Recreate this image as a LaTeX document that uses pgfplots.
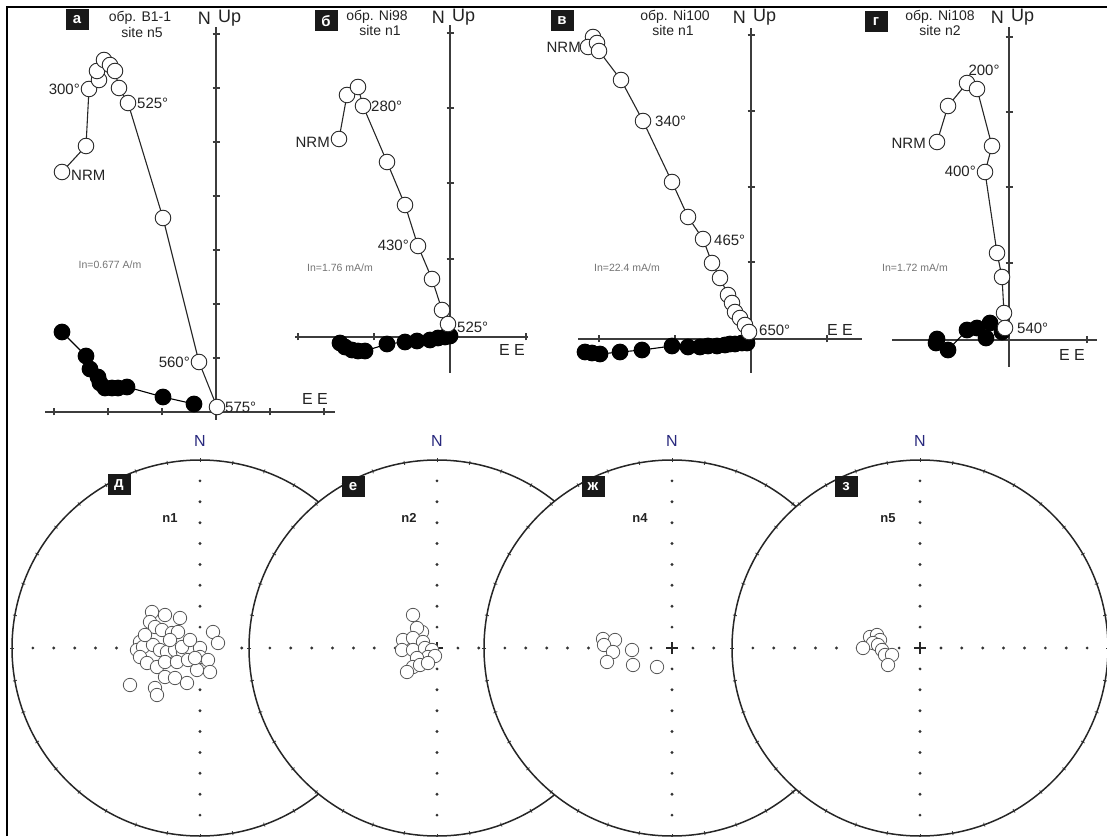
\documentclass[border=0pt]{standalone}
\usepackage{pgfplots}
\pgfplotsset{compat=1.18}
\usepackage{fontspec}
\setmainfont{Liberation Sans}
\definecolor{ax}{RGB}{60,60,60}
\definecolor{tx}{RGB}{35,35,35}
\definecolor{navy}{RGB}{40,40,125}
\newcommand{\fs}[1]{\fontsize{#1}{#1}\selectfont}
\pgfplotsset{
 zij/.style={x=1pt,y=1pt,anchor=south west,axis lines=middle,
   axis line style={-,line width=1.4pt,ax},
   tick style={line width=1.1pt,ax}, major tick length=7pt,
   xtick align=center, ytick align=center,
   xticklabels={}, yticklabels={},
   enlargelimits=false, clip=false},
 op/.style={mark=*, mark size=7.8pt, mark options={fill=white,draw=black!85,line width=0.9pt,solid}, black!85, line width=1.1pt},
 fl/.style={mark=*, mark size=7.8pt, mark options={fill=black,draw=black,solid}, black, line width=1.1pt},
 st/.style={x=1pt,y=1pt,anchor=south west,xmin=-190,xmax=190,ymin=-190,ymax=190,hide axis,clip=false},
 sm/.style={only marks, mark=*, mark size=6.7pt, mark options={fill=white,draw=black!65,line width=0.8pt}},
}
\tikzset{
 lbl/.style={text=tx, font=\fs{15}, inner sep=1pt},
 big/.style={text=tx, font=\fs{18}, inner sep=0pt},
 hdr/.style={text=tx, font=\fs{14}, inner sep=0pt},
 inn/.style={text=black!55, font=\fs{10.5}, inner sep=0pt},
 box/.style={fill=black!90, text=white, font=\bfseries\fs{15}, minimum width=23pt, minimum height=21pt, inner sep=0pt},
}
\newcommand{\stereoframe}[1]{%
 \begin{scope}[shift={(#1pt,188pt)}]
  \fill[white] (0,0) circle[radius=188pt];
  \draw[line width=1.5pt, black!85] (0,0) circle[radius=188pt];
  \foreach \a in {0,10,...,350} \draw[line width=0.8pt, black!80] (\a:186pt) -- (\a:190pt);
  \foreach \a in {0,90,180,270} \draw[line width=3.2pt, black!80, line cap=round, dash pattern=on 0pt off 20.89pt] (0,0) -- (\a:188pt);
  \draw[line width=1.4pt, black!85] (-6pt,0) -- (6pt,0) (0,-6pt) -- (0,6pt);
  \node[text=navy, font=\fs{16}] at (0,207pt) {N};
 \end{scope}}
\begin{document}
\begin{tikzpicture}
% ---------------- panel a
\begin{axis}[zij, at={(45pt,416pt)}, xmin=-171, xmax=119, ymin=-8, ymax=385,
  xtick={-162,-108,-54,54,108}, ytick={54,108,162,216,270,324,378}]
\addplot[fl] table {
-154 80
-130 56
-126 43
-118 35
-116 29
-111 24
-104 24
-98 24
-89 25
-53 15
-22 8
};
\addplot[op] table {
-154 240
-130 266
-127 323
-117 332
-119 341
-112 352
-106 347
-101 341
-97 324
-88 309
-53 194
-17 50
1 5
};
\node[box] at (axis cs:-139,392) {а};
\node[hdr] at (axis cs:-76,394) {обр. B1-1};
\node[hdr] at (axis cs:-74,379) {site n5};
\node[big,anchor=east] at (axis cs:-5,394) {N};
\node[big,anchor=west] at (axis cs:2,394) {Up};
\node[lbl,anchor=east] at (axis cs:-135,323) {300°};
\node[lbl,anchor=west] at (axis cs:-80,309) {525°};
\node[lbl,anchor=west] at (axis cs:-146,237) {NRM};
\node[lbl,anchor=east] at (axis cs:-25,50) {560°};
\node[lbl,anchor=west] at (axis cs:8,5) {575°};
\node[inn] at (axis cs:-106,147) {In=0.677 A/m};
\node[lbl,font=\fs{16}] at (axis cs:99,13) {E E};
\end{axis}
% ---------------- panel b
\begin{axis}[zij, at={(295pt,463pt)}, xmin=-155, xmax=78, ymin=-36, ymax=312,
  xtick={-152,-76,76}, ytick={78,154,229,304}]
\addplot[fl] table {
-110 -6
-105 -10
-98 -13
-92 -14
-85 -14
-63 -7
-45 -5
-33 -4
-20 -3
-12 -1
-5 0
0 1
};
\addplot[op] table {
-111 198
-103 242
-92 250
-87 231
-63 175
-45 132
-32 91
-18 58
-8 27
-2 13
};
\node[box] at (axis cs:-124,316) {б};
\node[hdr] at (axis cs:-73,320) {обр. Ni98};
\node[hdr] at (axis cs:-70,306) {site n1};
\node[big,anchor=east] at (axis cs:-5,320) {N};
\node[big,anchor=west] at (axis cs:2,320) {Up};
\node[lbl,anchor=east] at (axis cs:-119,195) {NRM};
\node[lbl,anchor=west] at (axis cs:-80,231) {280°};
\node[lbl,anchor=east] at (axis cs:-40,92) {430°};
\node[lbl,anchor=west] at (axis cs:6,10) {525°};
\node[inn] at (axis cs:-110,69) {In=1.76 mA/m};
\node[lbl,font=\fs{16}] at (axis cs:62,-13) {E E};
\end{axis}
% ---------------- panel v
\begin{axis}[zij, at={(578pt,463pt)}, xmin=-173, xmax=111, ymin=-34, ymax=311,
  xtick={-152,-76,76}, ytick={77,152,228,304}]
\addplot[fl] table {
-166 -13
-159 -14
-151 -15
-131 -13
-109 -11
-79 -7
-63 -8
-51 -8
-43 -7
-34 -7
-26 -6
-21 -5
-16 -5
-9 -4
-4 -4
};
\addplot[op] table {
-158 302
-163 292
-154 296
-152 288
-130 259
-108 218
-79 157
-63 122
-48 100
-39 76
-31 61
-23 44
-19 36
-16 27
-11 21
-6 14
-2 7
};
\node[box] at (axis cs:-189,318) {в};
\node[hdr] at (axis cs:-76,322) {обр. Ni100};
\node[hdr] at (axis cs:-78,308) {site n1};
\node[big,anchor=east] at (axis cs:-5,322) {N};
\node[big,anchor=west] at (axis cs:2,322) {Up};
\node[lbl,anchor=east] at (axis cs:-169,292) {NRM};
\node[lbl,anchor=west] at (axis cs:-97,218) {340°};
\node[lbl,anchor=west] at (axis cs:-38,99) {465°};
\node[lbl,anchor=west] at (axis cs:7,9) {650°};
\node[inn] at (axis cs:-124,71) {In=22.4 mA/m};
\node[lbl,font=\fs{16}] at (axis cs:89,9) {E E};
\end{axis}
% ---------------- panel g
\begin{axis}[zij, at={(892pt,469pt)}, xmin=-117, xmax=88, ymin=-27, ymax=313,
  xtick={-76,78}, ytick={77,153,228,303}]
\addplot[fl] table {
-72 1
-73 -3
-61 -10
-42 10
-32 12
-23 2
-19 17
-7 8
};
\addplot[op] table {
-72 198
-61 234
-42 257
-32 251
-17 194
-24 168
-12 87
-7 63
-5 27
-4 12
};
\node[box] at (axis cs:-133,318) {г};
\node[hdr] at (axis cs:-69,323) {обр. Ni108};
\node[hdr] at (axis cs:-69,309) {site n2};
\node[big,anchor=east] at (axis cs:-5,323) {N};
\node[big,anchor=west] at (axis cs:2,323) {Up};
\node[lbl,anchor=east] at (axis cs:-82,197) {NRM};
\node[lbl] at (axis cs:-25,270) {200°};
\node[lbl,anchor=east] at (axis cs:-32,169) {400°};
\node[lbl,anchor=west] at (axis cs:7,12) {540°};
\node[inn] at (axis cs:-94,72) {In=1.72 mA/m};
\node[lbl,font=\fs{16}] at (axis cs:63,-15) {E E};
\end{axis}
% ---------------- stereonets
\stereoframe{200}
\begin{axis}[st, at={(10pt,-2pt)}]
\addplot[sm] table {
-48 36
-35 33
-20 30
-50 26
-45 21
-38 18
-28 15
-22 16
13 16
18 5
-60 6
-63 -2
-57 1
-47 3
-40 -2
-33 -4
-25 -2
-17 -4
-8 -2
0 0
0 -9
8 -12
-60 -9
-53 -15
-43 -19
-35 -14
-23 -14
-12 -12
-3 -22
10 -24
-35 -29
-25 -30
-13 -35
-70 -37
-45 -40
-43 -47
-18 1
-5 -10
-30 8
-10 8
-55 13
};
\node[box] at (axis cs:-81,163) {д};
\node[text=tx,font=\bfseries\fs{13}] at (axis cs:-30,130) {n1};
\end{axis}
\stereoframe{437}
\begin{axis}[st, at={(247pt,-2pt)}]
\addplot[sm] table {
-24 33
-15 16
-20 20
-34 8
-24 10
-14 6
-35 -2
-24 -2
-12 0
-5 -2
-9 -9
-2 -8
-20 -10
-24 -19
-17 -17
-9 -15
-30 -24
};
\node[box] at (axis cs:-84,161) {е};
\node[text=tx,font=\bfseries\fs{13}] at (axis cs:-28,130) {n2};
\end{axis}
\stereoframe{672}
\begin{axis}[st, at={(482pt,-2pt)}]
\addplot[sm] table {
-69 9
-57 8
-68 3
-59 -4
-65 -14
-40 -2
-39 -17
-15 -19
};
\node[box] at (axis cs:-79,161) {ж};
\node[text=tx,font=\bfseries\fs{13}] at (axis cs:-32,130) {n4};
\end{axis}
\stereoframe{920}
\begin{axis}[st, at={(730pt,-2pt)}]
\addplot[sm] table {
-50 11
-43 13
-40 8
-47 5
-42 3
-57 0
-38 -2
-35 -7
-28 -7
-32 -17
};
\node[box] at (axis cs:-74,161) {з};
\node[text=tx,font=\bfseries\fs{13}] at (axis cs:-32,130) {n5};
\end{axis}
% frame
\draw[line width=2.5pt] (7pt,0) -- (7pt,829pt) -- (1107pt,829pt);
\pgfresetboundingbox
\useasboundingbox (0,0) rectangle (1107pt,836pt);
\end{tikzpicture}
\end{document}
